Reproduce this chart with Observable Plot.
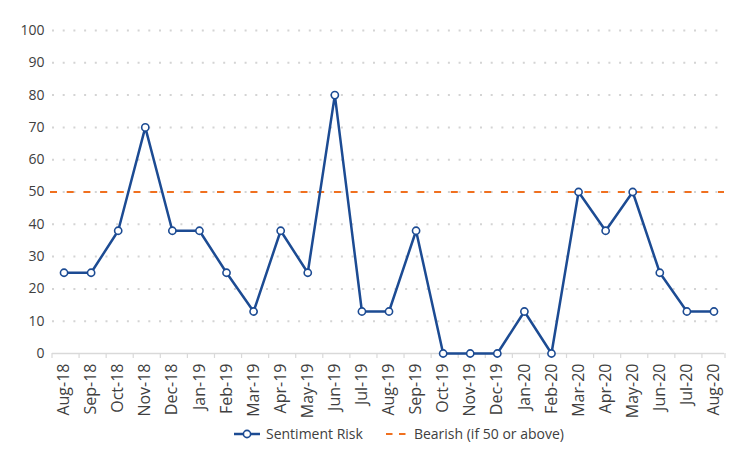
<!DOCTYPE html>
<html>
<head>
<meta charset="utf-8">
<script src="https://cdn.jsdelivr.net/npm/d3@7"></script>
<script src="https://cdn.jsdelivr.net/npm/@observablehq/plot@0.6"></script>
<style>
  body { margin: 0; background: #fff; font-family: "Open Sans", sans-serif; }
  #chart svg { display: block; }
  .legend { display: flex; align-items: center; margin-left: 234px; margin-top: 4px; font-size: 14px; color: #404040; font-family: "Open Sans", sans-serif; }
  .legend .item { display: flex; align-items: center; }
</style>
</head>
<body>
<div id="chart"></div>
<script>
const months = ["Aug-18","Sep-18","Oct-18","Nov-18","Dec-18","Jan-19","Feb-19","Mar-19","Apr-19","May-19","Jun-19","Jul-19","Aug-19","Sep-19","Oct-19","Nov-19","Dec-19","Jan-20","Feb-20","Mar-20","Apr-20","May-20","Jun-20","Jul-20","Aug-20"];
const sentimentRisk = [25,25,38,70,38,38,25,13,38,25,80,13,13,38,0,0,0,13,0,50,38,50,25,13,13];
const bearishThreshold = 50;
const yTicks = [0,10,20,30,40,50,60,70,80,90,100];
const seriesNames = ["Sentiment Risk", "Bearish (if 50 or above)"];

const blue = "#1c4b93";
const orange = "#f0701f";
const data = months.map((m, i) => ({month: m, value: sentimentRisk[i]}));

const W = 748, H = 420, mL = 50, mR = 21;
const bw = (W - mL - mR) / months.length;
const tickUnits = 5 / ((H - 30 - 67) / 100);

const chart = Plot.plot({
  width: W,
  height: H,
  marginLeft: mL,
  marginRight: mR,
  marginTop: 30,
  marginBottom: 67,
  style: {fontFamily: "'Open Sans', sans-serif", fontSize: "14px", color: "#404040", background: "#fff"},
  x: {type: "band", domain: months, padding: 0, round: false, label: null},
  y: {domain: [0, 100], label: null},
  marks: [
    Plot.ruleY(yTicks.filter(d => d > 0), {stroke: "#d4d4d4", strokeWidth: 2, strokeDasharray: "2,8.7", insetLeft: 2, insetRight: 3}),
    Plot.ruleY([0], {stroke: "#d9d9d9", strokeWidth: 1.5, insetLeft: 2, insetRight: 3}),
    Plot.ruleX(months, {x: d => d, y1: 0, y2: -tickUnits, dx: -bw / 2 + 1.5, stroke: "#d9d9d9", strokeWidth: 1.2}),
    Plot.ruleX([months[months.length - 1]], {x: d => d, y1: 0, y2: -tickUnits, dx: bw / 2 - 2.5, stroke: "#d9d9d9", strokeWidth: 1.2}),
    Plot.ruleY([bearishThreshold], {stroke: orange, strokeWidth: 2, strokeDasharray: "7,9.7", insetRight: 3}),
    Plot.line(data, {x: "month", y: "value", stroke: blue, strokeWidth: 2.5}),
    Plot.dot(data, {x: "month", y: "value", r: 3.6, fill: "#fff", stroke: blue, strokeWidth: 1.6}),
    Plot.axisY({ticks: yTicks, tickSize: 0, tickPadding: 6, fontSize: 14}),
    Plot.axisX({tickRotate: -90, tickSize: 0, tickPadding: 10, fontSize: 16})
  ]
});
document.getElementById("chart").appendChild(chart);

const legend = document.createElement("div");
legend.className = "legend";
legend.innerHTML = `
  <span class="item"><svg width="26" height="12" style="margin-right:6px"><line x1="0" y1="6" x2="26" y2="6" stroke="${blue}" stroke-width="2.5"/><circle cx="13" cy="6" r="3.6" fill="#fff" stroke="${blue}" stroke-width="1.6"/></svg>${seriesNames[0]}</span>
  <span class="item" style="margin-left:23px"><svg width="20" height="12" style="margin-right:8px"><line x1="0" y1="6" x2="20" y2="6" stroke="${orange}" stroke-width="2" stroke-dasharray="6.5,6.5"/></svg>${seriesNames[1]}</span>`;
document.body.appendChild(legend);
</script>
</body>
</html>
